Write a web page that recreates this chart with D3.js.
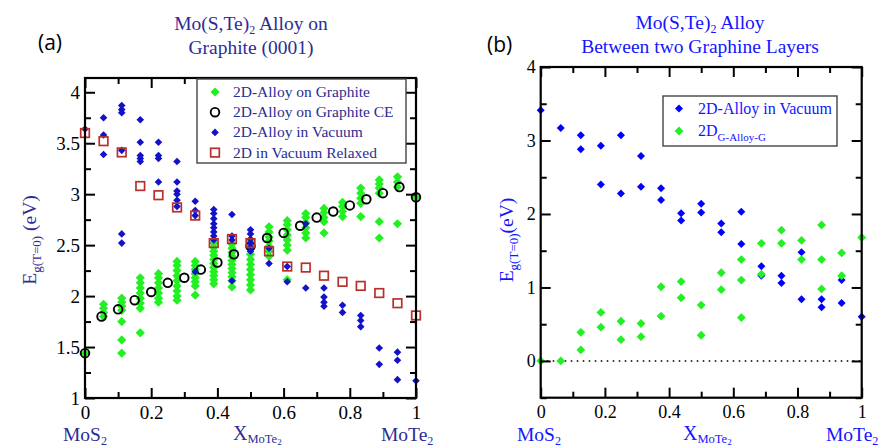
<!DOCTYPE html>
<html><head><meta charset="utf-8">
<script src="https://cdn.jsdelivr.net/npm/d3@7"></script>
<style>body{margin:0;background:#fff} text{font-family:"Liberation Serif","DejaVu Serif",serif}</style>
</head><body>
<svg id="c" width="883" height="448"></svg>
<script>
// ---------- DATA ----------
// Panel (a): compositions x = k/18
const leftX = [0,0.056,0.111,0.167,0.222,0.278,0.333,0.389,0.444,0.5,0.556,0.611,0.667,0.722,0.778,0.833,0.889,0.944,1];
const leftGraphite = [
  [1.44],
  [1.80,1.84,1.88,1.92],
  [1.44,1.57,1.75,1.86,1.90,1.94,1.98],
  [1.64,1.88,1.93,1.98,2.03,2.08,2.13,2.18],
  [1.94,1.98,2.03,2.08,2.13,2.18,2.22],
  [1.96,2.00,2.05,2.10,2.15,2.20,2.25,2.30,2.34],
  [2.01,2.10,2.14,2.18,2.22,2.26,2.30,2.34],
  [2.12,2.16,2.20,2.24,2.28,2.32,2.36,2.40,2.44,2.48,2.52],
  [2.09,2.15,2.19,2.23,2.27,2.31,2.35,2.39,2.43,2.47,2.51],
  [2.06,2.11,2.16,2.21,2.26,2.31,2.36,2.41,2.46,2.51,2.55],
  [2.39,2.44,2.49,2.54,2.58,2.63,2.68],
  [2.16,2.45,2.50,2.55,2.60,2.65,2.70,2.74],
  [2.57,2.62,2.67,2.72,2.77,2.81],
  [2.62,2.73,2.77,2.82,2.86],
  [2.78,2.83,2.88,2.92],
  [2.78,2.91,2.96,3.01,3.06],
  [2.57,2.73,3.01,3.06,3.10,3.14],
  [2.71,3.07,3.12,3.17],
  [2.97]
];
const leftVacuum = [
  [3.64],
  [3.39,3.58,3.75],
  [2.52,2.61,3.43,3.80,3.83,3.87],
  [3.32,3.35,3.38,3.51,3.73],
  [3.12,3.35,3.38,3.51],
  [2.88,2.94,3.00,3.03,3.12,3.32],
  [2.24,2.79,2.84,2.93],
  [2.55,2.59,2.63,2.67,2.71,2.76,2.81,2.85],
  [2.15,2.55,2.59,2.80],
  [2.44,2.48,2.52,2.56,2.61,2.65],
  [2.32,2.47],
  [2.14,2.29],
  [2.08,2.71],
  [1.90,1.94,1.99,2.08],
  [1.84,1.91],
  [1.70,1.76,1.81],
  [1.33,1.49],
  [1.18,1.37,1.45],
  [1.17]
];
const leftRelaxed = [3.60,3.52,3.41,3.08,2.99,2.87,2.79,2.52,2.56,2.52,2.44,2.29,2.28,2.20,2.14,2.10,2.03,1.93,1.81];
// Cluster-expansion points, x = k/20
const ceX = [0,0.05,0.1,0.15,0.2,0.25,0.3,0.35,0.4,0.45,0.5,0.55,0.6,0.65,0.7,0.75,0.8,0.85,0.9,0.95,1];
const ceY = [1.44,1.80,1.87,1.96,2.04,2.13,2.18,2.26,2.33,2.41,2.49,2.57,2.62,2.69,2.77,2.83,2.89,2.95,3.01,3.07,2.97];

// Panel (b): compositions x = k/16
const rightX = [0,0.0625,0.125,0.1875,0.25,0.3125,0.375,0.4375,0.5,0.5625,0.625,0.6875,0.75,0.8125,0.875,0.9375,1];
const rightVacuum = [
  [3.41],[3.17],[3.07,2.88],[2.93,2.40],[3.07,2.28],[2.79,2.37],[2.35,2.19],[2.01,1.91],
  [2.14,2.02],[1.87,1.75],[2.03,1.59],[1.29,1.16],[1.16,1.06],[1.48,0.84],[0.84,0.73],[1.10,0.79],[0.60]
];
const rightGAG = [
  [0],[0],[0.39,0.15],[0.66,0.46],[0.54,0.29],[0.51,0.33],[1.01,0.61],[1.08,0.86],
  [0.76,0.35],[1.20,0.97],[1.38,1.10,0.59],[1.60,1.18],[1.78,1.60],[1.64,1.38],[1.85,1.38,0.98],[1.47,1.16],[1.68]
];

const xTicks = [0,0.2,0.4,0.6,0.8,1];
const xMinor = [0.1,0.3,0.5,0.7,0.9];
const leftYTicks = [1,1.5,2,2.5,3,3.5,4];
const leftYMinor = [1.25,1.75,2.25,2.75,3.25,3.75];
const rightYTicks = [0,1,2,3,4];
const rightYMinor = [-0.5,0.5,1.5,2.5,3.5];

// ---------- STYLE ----------
const NAVY = '#2c2c94', BRIGHT = '#1414ff';
const GREEN = '#22f022', DBLUE = '#1212c8', BLUE = '#0000ff', RED = '#b8302c';
const SERIF = '"Liberation Serif","DejaVu Serif",serif';

const svg = d3.select('#c');
const diamond = r => `M0,${-r}L${r},0L0,${r}L${-r},0Z`;

function flat(xs, yss){ const out=[]; xs.forEach((x,i)=>yss[i].forEach(y=>out.push([x,y]))); return out; }

function frame(g, x, y, xt, xm, yt, ym, fs, yFmt){
  const [x0,x1]=x.range(), [y0,y1]=y.range();
  const w=x1-x0, h=y0-y1;
  g.append('g').attr('transform',`translate(0,${y0})`)
    .call(d3.axisBottom(x).tickValues(xt).tickSize(-10).tickPadding(7.5).tickFormat(d3.format('~g')));
  g.append('g').attr('transform',`translate(0,${y0})`).call(d3.axisBottom(x).tickValues(xm).tickSize(-6).tickFormat(''));
  g.append('g').attr('transform',`translate(0,${y1})`).call(d3.axisTop(x).tickValues(xt).tickSize(-10).tickFormat(''));
  g.append('g').attr('transform',`translate(0,${y1})`).call(d3.axisTop(x).tickValues(xm).tickSize(-6).tickFormat(''));
  g.append('g').attr('transform',`translate(${x0},0)`)
    .call(d3.axisLeft(y).tickValues(yt).tickSize(-10).tickPadding(5).tickFormat(yFmt));
  g.append('g').attr('transform',`translate(${x0},0)`).call(d3.axisLeft(y).tickValues(ym).tickSize(-6).tickFormat(''));
  g.append('g').attr('transform',`translate(${x1},0)`).call(d3.axisRight(y).tickValues(yt).tickSize(-10).tickFormat(''));
  g.append('g').attr('transform',`translate(${x1},0)`).call(d3.axisRight(y).tickValues(ym).tickSize(-6).tickFormat(''));
  g.selectAll('.domain').remove();
  g.selectAll('.tick line').attr('stroke','#000').attr('stroke-width',2);
  g.selectAll('.tick text').style('font-family',SERIF).attr('font-size',fs).attr('fill','#000');
  g.append('rect').attr('x',x0).attr('y',y1).attr('width',w).attr('height',h)
    .attr('fill','none').attr('stroke','#000').attr('stroke-width',2.2);
}

// ---------- PANEL A ----------
const xa = d3.scaleLinear().domain([0,1]).range([85,416]);
const ya = d3.scaleLinear().domain([1,4.14]).range([398,78]);
const ga = svg.append('g');

ga.append('g').selectAll('path').data(flat(leftX,leftGraphite)).join('path')
  .attr('d',diamond(4.6)).attr('transform',d=>`translate(${xa(d[0])},${ya(d[1])})`).attr('fill',GREEN);
ga.append('g').selectAll('circle').data(ceX.map((x,i)=>[x,ceY[i]])).join('circle')
  .attr('cx',d=>xa(d[0])).attr('cy',d=>ya(d[1])).attr('r',4.3)
  .attr('fill','none').attr('stroke','#000').attr('stroke-width',1.9);
ga.append('g').selectAll('path').data(flat(leftX,leftVacuum)).join('path')
  .attr('d',diamond(3.8)).attr('transform',d=>`translate(${xa(d[0])},${ya(d[1])})`).attr('fill',DBLUE);
ga.append('g').selectAll('rect').data(leftX.map((x,i)=>[x,leftRelaxed[i]])).join('rect')
  .attr('x',d=>xa(d[0])-4.3).attr('y',d=>ya(d[1])-4.3).attr('width',8.6).attr('height',8.6)
  .attr('fill','none').attr('stroke',RED).attr('stroke-width',1.7);

frame(ga, xa, ya, xTicks, xMinor, leftYTicks, leftYMinor, 19, d3.format('~g'));

const la = ga.append('g');
la.append('rect').attr('x',197).attr('y',79).attr('width',209).attr('height',84)
  .attr('fill','#fff').attr('stroke','#444').attr('stroke-width',1.4);
const legA = [
  {t:'2D-Alloy on Graphite', k:'g'},
  {t:'2D-Alloy on Graphite CE', k:'c'},
  {t:'2D-Alloy in Vacuum', k:'b'},
  {t:'2D in Vacuum Relaxed', k:'r'}
];
legA.forEach((e,i)=>{
  const yy = 92 + i*20.2, sx = 215;
  if(e.k==='g') la.append('path').attr('d',diamond(4.6)).attr('transform',`translate(${sx},${yy})`).attr('fill',GREEN);
  if(e.k==='c') la.append('circle').attr('cx',sx).attr('cy',yy).attr('r',4.3).attr('fill','none').attr('stroke','#000').attr('stroke-width',1.9);
  if(e.k==='b') la.append('path').attr('d',diamond(3.8)).attr('transform',`translate(${sx},${yy})`).attr('fill',DBLUE);
  if(e.k==='r') la.append('rect').attr('x',sx-4.3).attr('y',yy-4.3).attr('width',8.6).attr('height',8.6).attr('fill','none').attr('stroke',RED).attr('stroke-width',1.7);
  la.append('text').attr('x',233).attr('y',yy+5).attr('font-size',15.5).attr('fill',NAVY).text(e.t);
});

svg.append('text').attr('x',38).attr('y',50)
  .style('font-family','"Open Sans","Liberation Sans",sans-serif').attr('font-size',21).attr('fill','#000').text('(a)');
const ta = svg.append('text').attr('x',251).attr('y',30).attr('text-anchor','middle').attr('font-size',19.5).attr('fill',NAVY);
ta.append('tspan').text('Mo(S,Te)');
ta.append('tspan').attr('dy',4).attr('font-size',12).text('2');
ta.append('tspan').attr('dy',-4).text(' Alloy on');
svg.append('text').attr('x',251).attr('y',54).attr('text-anchor','middle').attr('font-size',19.5).attr('fill',NAVY).text('Graphite (0001)');

const yla = svg.append('text').attr('transform','translate(36,240) rotate(-90)').attr('text-anchor','middle').attr('font-size',19.5).attr('fill',NAVY);
yla.append('tspan').text('E');
yla.append('tspan').attr('dy',5).attr('font-size',13).text('g(T=0)');
yla.append('tspan').attr('dy',-5).text(' (eV)');

function chem(x,y,base,sub,color,fs){
  const t=svg.append('text').attr('x',x).attr('y',y).attr('font-size',fs).attr('fill',color);
  t.append('tspan').text(base);
  t.append('tspan').attr('dy',3.5).attr('font-size',fs*0.62).text(sub);
  return t;
}
function xlab(x,y,color){
  const t=svg.append('text').attr('x',x).attr('y',y).attr('font-size',20).attr('fill',color);
  t.append('tspan').text('X');
  t.append('tspan').attr('dy',3).attr('font-size',12.5).text('MoTe');
  t.append('tspan').attr('dy',2).attr('font-size',9).text('2');
}
chem(63,441,'MoS','2',NAVY,19.5);
chem(381,441,'MoTe','2',NAVY,19.5);
xlab(233,440,NAVY);

// ---------- PANEL B ----------
const xb = d3.scaleLinear().domain([0,1]).range([540.7,861.7]);
const yb = d3.scaleLinear().domain([-0.5,4]).range([397.7,67]);
const gb = svg.append('g');

gb.append('line').attr('x1',xb(0)).attr('x2',xb(1)).attr('y1',yb(0)).attr('y2',yb(0))
  .attr('stroke','#000').attr('stroke-width',1.6).attr('stroke-dasharray','1.6,4.4');

gb.append('g').selectAll('path').data(flat(rightX,rightVacuum)).join('path')
  .attr('d',diamond(4)).attr('transform',d=>`translate(${xb(d[0])},${yb(d[1])})`).attr('fill',BLUE);
gb.append('g').selectAll('path').data(flat(rightX,rightGAG)).join('path')
  .attr('d',diamond(4.4)).attr('transform',d=>`translate(${xb(d[0])},${yb(d[1])})`).attr('fill',GREEN);

frame(gb, xb, yb, xTicks, xMinor, rightYTicks, rightYMinor, 18, d3.format('~g'));

const lb = gb.append('g');
lb.append('rect').attr('x',663).attr('y',96).attr('width',174).attr('height',50)
  .attr('fill','#fff').attr('stroke','#444').attr('stroke-width',1.4);
lb.append('path').attr('d',diamond(4)).attr('transform','translate(679,108.5)').attr('fill',BLUE);
lb.append('text').attr('x',698).attr('y',114).attr('font-size',16).attr('fill',BRIGHT).text('2D-Alloy in Vacuum');
lb.append('path').attr('d',diamond(4.4)).attr('transform','translate(679,131)').attr('fill',GREEN);
{
  const t=lb.append('text').attr('x',698).attr('y',136).attr('font-size',16).attr('fill',BRIGHT);
  t.append('tspan').text('2D');
  t.append('tspan').attr('dy',5).attr('font-size',11).text('G-Alloy-G');
}

svg.append('text').attr('x',487).attr('y',52)
  .style('font-family','"Open Sans","Liberation Sans",sans-serif').attr('font-size',21).attr('fill','#000').text('(b)');
const tb = svg.append('text').attr('x',700).attr('y',29).attr('text-anchor','middle').attr('font-size',19.5).attr('fill',BRIGHT);
tb.append('tspan').text('Mo(S,Te)');
tb.append('tspan').attr('dy',4).attr('font-size',12).text('2');
tb.append('tspan').attr('dy',-4).text(' Alloy');
svg.append('text').attr('x',700).attr('y',53).attr('text-anchor','middle').attr('font-size',19.5).attr('fill',BRIGHT).text('Between two Graphine Layers');

const ylb = svg.append('text').attr('transform','translate(513,240) rotate(-90)').attr('text-anchor','middle').attr('font-size',19.5).attr('fill',BRIGHT);
ylb.append('tspan').text('E');
ylb.append('tspan').attr('dy',5).attr('font-size',13).text('g(T=0)');
ylb.append('tspan').attr('dy',-5).text('(eV)');

chem(517,441,'MoS','2',BRIGHT,19.5);
chem(826,441,'MoTe','2',BRIGHT,19.5);
xlab(683,440,BRIGHT);
</script>
</body></html>
